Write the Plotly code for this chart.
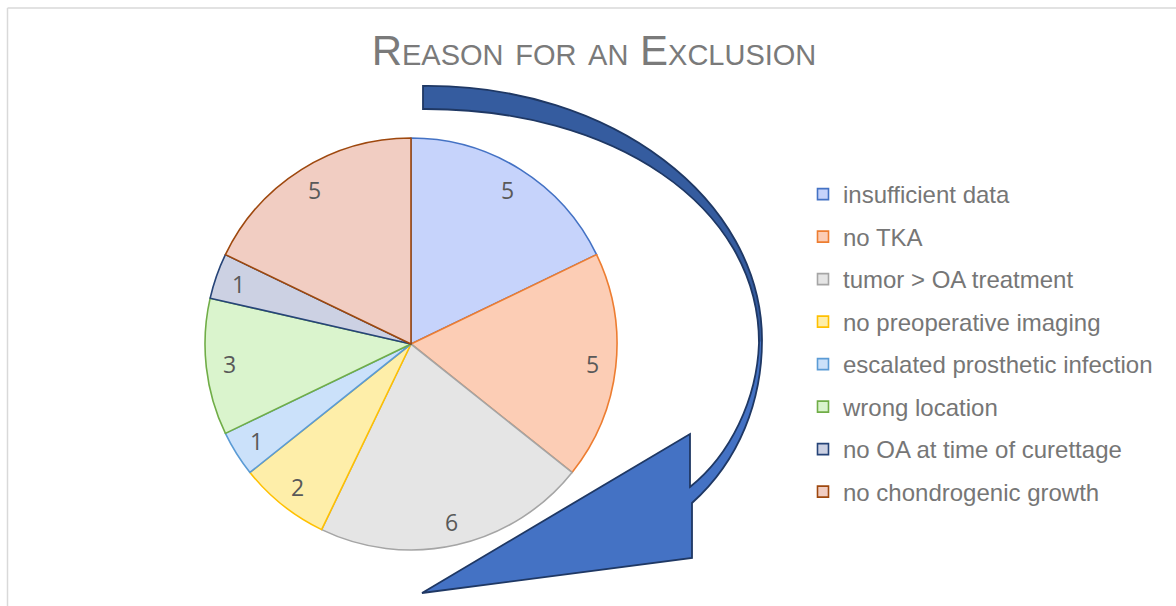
import math
import plotly.graph_objects as go

# ---- data ----
categories = [
    "insufficient data",
    "no TKA",
    "tumor > OA treatment",
    "no preoperative imaging",
    "escalated prosthetic infection",
    "wrong location",
    "no OA at time of curettage",
    "no chondrogenic growth",
]
counts = [5, 5, 6, 2, 1, 3, 1, 5]
title_text = "Reason for an Exclusion"

# ---- styles ----
fill_colors = ["#c6d3fb", "#fccdb5", "#e5e5e5", "#feeea9",
               "#cbe1fa", "#daf4cd", "#ccd1e3", "#f1cdc2"]
line_colors = ["#4472c4", "#ed7d31", "#a5a5a5", "#ffc000",
               "#5b9bd5", "#70ad47", "#264478", "#9e480e"]

W, H = 1176, 606
cx, cy, R = 411, 344, 206
dom_x = [(cx - R) / W, (cx + R) / W]
dom_y = [1 - (cy + R) / H, 1 - (cy - R) / H]

fig = go.Figure()

fig.add_trace(go.Pie(
    labels=categories, values=counts, sort=False, direction="clockwise",
    rotation=0, textinfo="none", hoverinfo="label+value",
    marker=dict(colors=fill_colors, line=dict(color=line_colors, width=1.6)),
    domain=dict(x=dom_x, y=dom_y), showlegend=False,
))

# legend entries
for i, name in enumerate(categories):
    fig.add_trace(go.Scatter(
        x=[None], y=[None], mode="markers", name=name, legendgroup=f"g{i}",
        marker=dict(symbol="square", size=11, color=fill_colors[i],
                    line=dict(color=line_colors[i], width=1.6)),
    ))

# value labels placed along each slice's mid angle (computed from the data)
total = sum(counts)
annotations, cum = [], 0
for v in counts:
    mid = (cum + v / 2) / total * 2 * math.pi
    annotations.append(dict(
        x=0.885 * math.sin(mid), y=0.885 * math.cos(mid), xref="x", yref="y",
        text=str(v), showarrow=False, xanchor="center", yanchor="middle",
        font=dict(family="Open Sans", size=23, color="#595959")))
    cum += v

def P(pts):
    return [(x / W, 1 - y / H) for x, y in pts]

def fmt(p):
    return f"{p[0]:.5f},{p[1]:.5f}"

def path_from(cmds):
    out = []
    for c in cmds:
        if c[0] in ("M", "L"):
            out.append(c[0] + " " + fmt(P([c[1]])[0]))
        elif c[0] == "C":
            pts = P(c[1:])
            out.append("C " + " ".join(fmt(p) for p in pts))
        elif c[0] == "Z":
            out.append("Z")
    return " ".join(out)

arrow_cmds = [
    ("M", (423, 86)),
    ("C", (612, 84), (762, 200), (762, 340)),
    ("C", (762, 400), (740, 460), (692, 503)),
    ("L", (692, 558)),
    ("L", (422, 593)),
    ("L", (690, 434)),
    ("L", (690, 487)),
    ("C", (730, 455), (757, 400), (759, 343)),
    ("C", (759, 205), (612, 108), (423, 109)),
    ("Z",),
]
upper_cmds = [
    ("M", (423, 86)),
    ("C", (612, 84), (762, 200), (762, 340)),
    ("L", (759, 343)),
    ("C", (759, 205), (612, 108), (423, 109)),
    ("Z",),
]
arrow_path = path_from(arrow_cmds)
upper_path = path_from(upper_cmds)

shapes = [
    dict(type="path", xref="paper", yref="paper", path=arrow_path,
         fillcolor="#4472c4", line=dict(width=0)),
    dict(type="path", xref="paper", yref="paper", path=upper_path,
         fillcolor="#355c9f", line=dict(width=0)),
    dict(type="path", xref="paper", yref="paper", path=arrow_path,
         fillcolor="rgba(0,0,0,0)", line=dict(color="#1f3864", width=1.8)),
    # chart-area border (top and left visible)
    dict(type="line", xref="paper", yref="paper", x0=7.5 / W, x1=1.0,
         y0=1 - 8 / H, y1=1 - 8 / H, line=dict(color="#d9d9d9", width=1.5)),
    dict(type="line", xref="paper", yref="paper", x0=7.5 / W, x1=7.5 / W,
         y0=0, y1=1 - 8 / H, line=dict(color="#d9d9d9", width=1.5)),
]

fig.update_layout(
    width=W, height=H, margin=dict(l=0, r=0, t=0, b=0),
    paper_bgcolor="white", plot_bgcolor="white",
    title=dict(text=title_text, x=594 / W, xanchor="center",
               y=1 - 50 / H, yanchor="middle", yref="container",
               font=dict(family="Liberation Sans", size=42, color="#7a7a7a",
                         variant="small-caps")),
    xaxis=dict(domain=dom_x, range=[-1, 1], visible=False, fixedrange=True),
    yaxis=dict(domain=dom_y, range=[-1, 1], visible=False, fixedrange=True),
    legend=dict(x=803 / W, xanchor="left", y=1 - 172 / H, yanchor="top",
                font=dict(family="Liberation Sans", size=24, color="#767676"),
                tracegroupgap=8.3, bgcolor="rgba(0,0,0,0)"),
    annotations=annotations,
    shapes=shapes,
    showlegend=True,
)

fig.write_html("out.html")
